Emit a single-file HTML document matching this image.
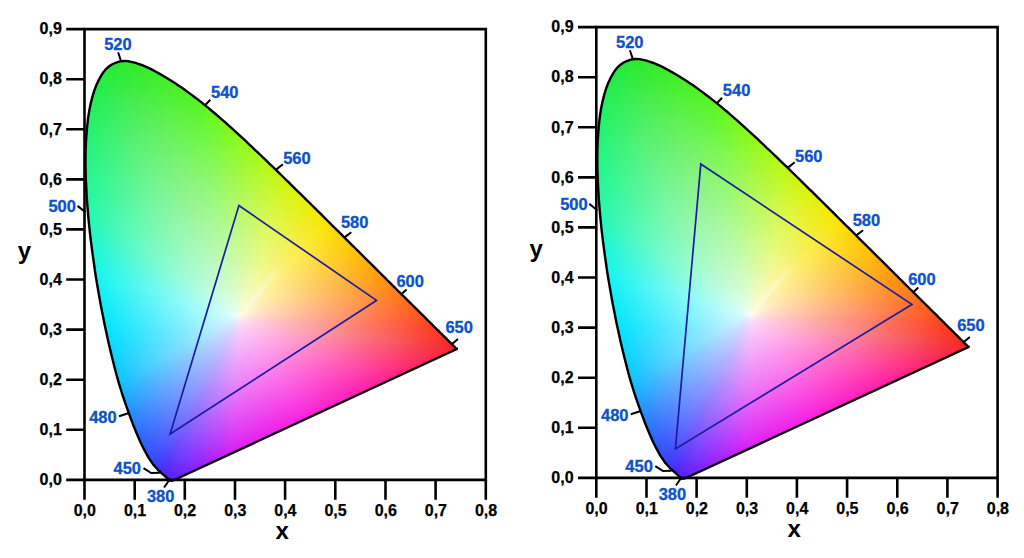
<!DOCTYPE html>
<html><head><meta charset="utf-8"><style>
html,body{margin:0;padding:0;background:#fff;width:1024px;height:558px;overflow:hidden}
.f{position:absolute;left:83px;top:58px;width:377px;height:425px;clip-path:polygon(89.0px 423.0px,88.8px 422.9px,88.5px 422.9px,88.1px 422.8px,87.7px 422.7px,87.4px 422.6px,87.1px 422.6px,86.9px 422.5px,86.8px 422.4px,86.7px 422.3px,86.6px 422.2px,86.5px 422.1px,86.4px 422.0px,86.3px 421.9px,86.1px 421.8px,85.9px 421.6px,85.8px 421.5px,85.6px 421.3px,85.4px 421.1px,85.2px 421.0px,85.0px 420.8px,84.8px 420.6px,84.6px 420.4px,84.4px 420.2px,84.1px 420.0px,83.9px 419.8px,83.6px 419.5px,83.3px 419.3px,83.1px 419.0px,82.8px 418.8px,82.4px 418.5px,82.1px 418.2px,81.7px 417.9px,81.4px 417.6px,81.0px 417.3px,80.6px 416.9px,80.2px 416.5px,79.7px 416.2px,79.3px 415.8px,78.8px 415.4px,78.3px 414.9px,77.8px 414.5px,77.3px 414.0px,76.8px 413.5px,76.2px 413.0px,75.6px 412.4px,75.0px 411.8px,74.4px 411.2px,73.8px 410.5px,73.1px 409.7px,72.4px 409.0px,71.7px 408.2px,71.0px 407.4px,70.2px 406.4px,69.4px 405.3px,68.6px 404.1px,67.7px 402.8px,66.7px 401.4px,65.7px 399.8px,64.7px 398.1px,63.6px 396.2px,62.5px 394.2px,61.4px 392.1px,60.2px 389.8px,58.9px 387.3px,57.6px 384.5px,56.3px 381.5px,54.9px 378.3px,53.4px 374.8px,51.9px 371.1px,50.3px 367.2px,48.7px 362.9px,47.0px 358.3px,45.2px 353.3px,43.3px 348.1px,41.4px 342.6px,39.4px 336.7px,37.5px 330.5px,35.5px 323.8px,33.5px 316.8px,31.6px 309.4px,29.6px 301.5px,27.6px 293.4px,25.6px 284.9px,23.7px 276.1px,21.7px 266.9px,19.8px 257.2px,17.8px 247.3px,16.0px 237.1px,14.2px 226.8px,12.5px 216.5px,11.0px 206.0px,9.5px 195.4px,8.1px 184.6px,6.8px 173.8px,5.7px 163.2px,4.8px 152.8px,4.0px 142.6px,3.4px 132.4px,2.9px 122.4px,2.6px 112.5px,2.5px 103.0px,2.6px 93.8px,2.9px 85.0px,3.5px 76.3px,4.2px 68.0px,5.1px 60.0px,6.3px 52.5px,7.7px 45.5px,9.3px 39.1px,11.1px 33.1px,13.2px 27.5px,15.5px 22.5px,17.9px 18.1px,20.4px 14.2px,23.0px 11.0px,25.9px 8.5px,28.9px 6.5px,32.0px 5.0px,35.2px 3.9px,38.3px 3.2px,41.6px 2.9px,44.9px 3.1px,48.3px 3.8px,51.7px 4.7px,55.2px 5.8px,58.6px 7.0px,62.0px 8.3px,65.5px 9.9px,69.0px 11.6px,72.4px 13.5px,75.8px 15.4px,79.2px 17.3px,82.5px 19.2px,85.8px 21.2px,89.0px 23.2px,92.2px 25.3px,95.4px 27.5px,98.6px 29.6px,101.7px 31.8px,104.9px 34.1px,108.0px 36.4px,111.1px 38.7px,114.2px 41.0px,117.2px 43.4px,120.3px 45.9px,123.4px 48.4px,126.5px 50.9px,129.5px 53.5px,132.6px 56.0px,135.6px 58.6px,138.7px 61.3px,141.7px 63.9px,144.7px 66.6px,147.8px 69.4px,150.8px 72.1px,153.8px 74.9px,156.8px 77.6px,159.9px 80.4px,162.9px 83.2px,165.9px 86.1px,168.9px 88.9px,171.9px 91.8px,175.0px 94.6px,178.0px 97.5px,181.0px 100.4px,184.1px 103.3px,187.1px 106.3px,190.1px 109.2px,193.2px 112.1px,196.2px 115.1px,199.2px 118.0px,202.2px 121.0px,205.2px 123.9px,208.2px 126.9px,211.2px 129.8px,214.2px 132.8px,217.2px 135.7px,220.2px 138.7px,223.2px 141.6px,226.2px 144.5px,229.2px 147.5px,232.1px 150.4px,235.1px 153.3px,238.0px 156.2px,240.9px 159.1px,243.8px 162.0px,246.7px 164.9px,249.6px 167.8px,252.5px 170.6px,255.3px 173.4px,258.1px 176.2px,260.9px 179.0px,263.7px 181.8px,266.5px 184.6px,269.3px 187.3px,272.0px 190.0px,274.7px 192.7px,277.4px 195.3px,280.0px 198.0px,282.6px 200.6px,285.2px 203.1px,287.8px 205.7px,290.3px 208.2px,292.8px 210.6px,295.2px 213.1px,297.7px 215.5px,300.0px 217.9px,302.4px 220.2px,304.6px 222.5px,306.9px 224.7px,309.0px 226.8px,311.1px 228.9px,313.2px 231.0px,315.2px 233.0px,317.2px 234.9px,319.1px 236.8px,321.0px 238.7px,322.9px 240.6px,324.7px 242.4px,326.5px 244.1px,328.2px 245.9px,329.9px 247.5px,331.5px 249.1px,333.1px 250.7px,334.6px 252.1px,336.0px 253.6px,337.5px 255.0px,338.8px 256.3px,340.2px 257.6px,341.4px 258.9px,342.7px 260.1px,343.8px 261.3px,345.0px 262.5px,346.1px 263.6px,347.2px 264.6px,348.2px 265.7px,349.2px 266.6px,350.1px 267.6px,351.0px 268.5px,351.9px 269.3px,352.7px 270.2px,353.5px 271.0px,354.3px 271.8px,355.1px 272.5px,355.8px 273.2px,356.5px 273.9px,357.2px 274.6px,357.8px 275.2px,358.5px 275.8px,359.1px 276.4px,359.6px 277.0px,360.2px 277.6px,360.8px 278.2px,361.3px 278.7px,361.8px 279.2px,362.3px 279.7px,362.8px 280.2px,363.3px 280.7px,363.8px 281.2px,364.2px 281.6px,364.6px 282.0px,365.1px 282.4px,365.5px 282.8px,365.9px 283.2px,366.2px 283.6px,366.6px 283.9px,366.9px 284.3px,367.3px 284.6px,367.6px 284.9px,367.9px 285.2px,368.2px 285.5px,368.4px 285.8px,368.7px 286.0px,368.9px 286.3px,369.2px 286.5px,369.4px 286.7px,369.6px 286.9px,369.8px 287.1px,370.0px 287.3px,370.2px 287.5px,370.4px 287.7px,370.6px 287.9px,370.7px 288.0px,370.9px 288.2px,371.0px 288.4px,371.2px 288.5px,371.3px 288.6px,371.4px 288.7px,371.6px 288.9px,371.7px 289.0px,371.7px 289.0px,371.8px 289.1px,371.9px 289.2px,372.0px 289.3px,372.1px 289.4px,372.2px 289.5px,372.2px 289.5px,372.3px 289.6px,372.4px 289.7px,372.5px 289.8px,372.5px 289.8px,372.6px 289.9px,372.6px 289.9px,372.7px 290.0px,372.8px 290.1px,372.8px 290.1px,372.9px 290.2px,372.9px 290.2px,373.0px 290.3px,373.1px 290.4px,373.1px 290.4px,373.2px 290.5px,373.2px 290.5px,373.3px 290.6px,373.3px 290.6px,373.4px 290.7px,373.4px 290.7px,373.5px 290.8px,373.5px 290.8px,373.6px 290.8px,373.6px 290.9px,373.6px 290.9px,373.6px 290.9px,373.7px 291.0px,373.7px 291.0px,373.7px 291.0px,373.7px 291.0px,373.8px 291.0px,373.8px 291.1px,373.8px 291.1px,373.8px 291.1px,373.8px 291.1px,373.8px 291.1px,373.8px 291.1px,373.8px 291.1px,373.8px 291.1px);background:linear-gradient(90deg,#27e931 32px,#2fea2b 50px,#30ea2a 51px) 0 2px/100% 2px no-repeat,
linear-gradient(90deg,#26e934 28px,#32eb2a 55px,#34eb29 58px) 0 4px/100% 2px no-repeat,
linear-gradient(90deg,#25ea37 24px,#33eb2a 57px,#35ec29 61px) 0 6px/100% 2px no-repeat,
linear-gradient(90deg,#24eb3a 21px,#36ec29 62px,#39ed27 68px) 0 8px/100% 2px no-repeat,
linear-gradient(90deg,#23eb3b 20px,#37ec2c 61px,#3bed27 71px) 0 10px/100% 2px no-repeat,
linear-gradient(90deg,#23eb3d 18px,#37eb2f 59px,#3cee26 74px,#3dee26 75px) 0 12px/100% 2px no-repeat,
linear-gradient(90deg,#22ec41 16px,#38eb32 57px,#3dee26 75px,#3fef25 78px) 0 14px/100% 2px no-repeat,
linear-gradient(90deg,#22ec43 15px,#39eb34 56px,#3eee26 78px,#41ef25 82px) 0 16px/100% 2px no-repeat,
linear-gradient(90deg,#22ec45 14px,#3aeb37 55px,#41ef25 82px,#43f024 85px) 0 18px/100% 2px no-repeat,
linear-gradient(90deg,#21ed47 13px,#3beb39 54px,#44f024 87px,#44f024 88px) 0 20px/100% 2px no-repeat,
linear-gradient(90deg,#21ed49 12px,#3beb3b 53px,#44f026 86px,#47f123 92px) 0 22px/100% 2px no-repeat,
linear-gradient(90deg,#20ee4b 11px,#3ceb3d 52px,#45f029 85px,#48f122 95px) 0 24px/100% 2px no-repeat,
linear-gradient(90deg,#20ee4d 10px,#3cea3f 51px,#46ef2c 84px,#49f122 96px,#4af222 98px) 0 26px/100% 2px no-repeat,
linear-gradient(90deg,#20ee4f 9px,#3dea41 50px,#48ef2f 83px,#4cf221 101px) 0 28px/100% 2px no-repeat,
linear-gradient(90deg,#20ee50 9px,#3aeb47 42px,#48ee38 75px,#4cf221 102px,#4ef320 104px) 0 30px/100% 2px no-repeat,
linear-gradient(90deg,#1fef52 8px,#3feb46 49px,#4aef34 82px,#4df321 104px,#4ff320 106px) 0 32px/100% 2px no-repeat,
linear-gradient(90deg,#1fef54 7px,#40eb48 48px,#4bef37 81px,#50f420 108px) 0 34px/100% 2px no-repeat,
linear-gradient(90deg,#1fef55 7px,#41ec4a 48px,#4def3a 81px,#50f320 108px,#53f41f 112px) 0 36px/100% 2px no-repeat,
linear-gradient(90deg,#1ef057 6px,#41ec4c 47px,#4eef3d 80px,#53f41f 113px,#54f51e 115px) 0 38px/100% 2px no-repeat,
linear-gradient(90deg,#1ef059 5px,#42ec4f 46px,#4fef40 79px,#53f420 112px,#56f51e 117px) 0 40px/100% 2px no-repeat,
linear-gradient(90deg,#1ef05a 5px,#43ed50 46px,#51ef42 79px,#55f423 112px,#5af51d 120px) 0 42px/100% 2px no-repeat,
linear-gradient(90deg,#1ef05d 4px,#43ed52 45px,#53f03e 86px,#58f51e 119px,#5ef61d 123px) 0 44px/100% 2px no-repeat,
linear-gradient(90deg,#1ef15e 4px,#44ed54 45px,#55f041 86px,#59f520 119px,#61f61c 125px) 0 46px/100% 2px no-repeat,
linear-gradient(90deg,#1ef160 3px,#2cf05c 18px,#49ed54 51px,#56f044 84px,#59f524 117px,#63f61c 127px) 0 48px/100% 2px no-repeat,
linear-gradient(90deg,#1ef161 3px,#45ee58 44px,#57f046 85px,#5bf526 118px,#68f61c 130px) 0 50px/100% 2px no-repeat,
linear-gradient(90deg,#1ef163 3px,#46ee59 44px,#59f048 85px,#5cf528 118px,#67f61c 130px,#6af61b 132px) 0 52px/100% 2px no-repeat,
linear-gradient(90deg,#1ef164 3px,#47ee5b 44px,#5af04a 85px,#5ef52b 118px,#6bf61b 133px,#6df71b 134px) 0 54px/100% 2px no-repeat,
linear-gradient(90deg,#1ef266 2px,#34f062 24px,#50ed59 57px,#5cf148 90px,#63f627 123px,#6ef71b 135px,#70f71a 136px) 0 56px/100% 2px no-repeat,
linear-gradient(90deg,#1ef267 2px,#4fee5c 53px,#5df04e 86px,#61f62e 119px,#71f71a 137px,#74f71a 139px) 0 58px/100% 2px no-repeat,
linear-gradient(90deg,#1ef268 2px,#50ee5e 53px,#5ef050 86px,#62f631 119px,#76f71a 141px) 0 60px/100% 2px no-repeat,
linear-gradient(90deg,#1ef26a 2px,#51ee60 53px,#5ff052 86px,#64f633 119px,#76f71a 141px,#7af719 144px) 0 62px/100% 2px no-repeat,
linear-gradient(90deg,#1ef36c 1px,#30f169 19px,#51ef62 52px,#60f055 85px,#65f636 118px,#7cf819 145px,#7df819 146px) 0 64px/100% 2px no-repeat,
linear-gradient(90deg,#1ef36d 1px,#52ef63 52px,#62f057 85px,#67f639 118px,#7cf819 145px,#80f818 148px) 0 66px/100% 2px no-repeat,
linear-gradient(90deg,#1ef36e 1px,#52ef65 52px,#63f059 85px,#68f63b 118px,#7df81b 145px,#83f818 150px) 0 68px/100% 2px no-repeat,
linear-gradient(90deg,#1ef36f 1px,#53ef66 52px,#64f05b 85px,#6ef634 126px,#80f81a 148px,#85f818 152px) 0 70px/100% 2px no-repeat,
linear-gradient(90deg,#1ef371 0px,#2df26f 15px,#57ef67 56px,#66f15a 89px,#6bf63b 122px,#82f81b 149px,#88f817 154px) 0 72px/100% 2px no-repeat,
linear-gradient(90deg,#1ef473 0px,#29f371 12px,#55f069 53px,#69f258 94px,#71f738 127px,#88f817 154px,#8cf917 157px) 0 74px/100% 2px no-repeat,
linear-gradient(90deg,#1ef474 0px,#2df372 15px,#59f06a 56px,#69f15e 89px,#6ef640 122px,#8af918 155px,#8ff916 159px) 0 76px/100% 2px no-repeat,
linear-gradient(90deg,#1ef475 0px,#55f06e 51px,#6bf15e 92px,#71f73f 125px,#8ef917 158px,#91f916 161px) 0 78px/100% 2px no-repeat,
linear-gradient(90deg,#1ef476 0px,#56f170 51px,#6af065 84px,#70f64a 117px,#79f739 132px,#8ff917 159px,#94f916 163px) 0 80px/100% 2px no-repeat,
linear-gradient(90deg,#1ef478 0px,#56f172 51px,#6bf067 84px,#72f64c 117px,#77f73f 129px,#93f916 162px,#97f915 165px) 0 82px/100% 2px no-repeat,
linear-gradient(90deg,#1ef479 0px,#57f174 51px,#6cf068 84px,#73f64f 117px,#78f741 129px,#94f918 162px,#9afa15 167px) 0 84px/100% 2px no-repeat,
linear-gradient(90deg,#1ef57a 0px,#57f276 51px,#6df06a 84px,#75f651 117px,#7cf740 132px,#98f917 165px,#9cfa14 169px) 0 86px/100% 2px no-repeat,
linear-gradient(90deg,#1ef57b 0px,#58f277 51px,#6ef06c 84px,#76f653 117px,#7af746 129px,#9efa14 170px,#a0fa14 172px) 0 88px/100% 2px no-repeat,
linear-gradient(90deg,#1ef57d 0px,#58f279 51px,#6ff06e 84px,#77f655 117px,#7ef845 132px,#a2fa14 173px,#a3fa13 174px) 0 90px/100% 2px no-repeat,
linear-gradient(90deg,#1ef57e 0px,#59f27b 51px,#70f070 84px,#79f658 117px,#7ff847 132px,#a2fa14 173px,#a6f913 176px) 0 92px/100% 2px no-repeat,
linear-gradient(90deg,#1ef580 0px,#59f37c 51px,#71f071 84px,#7af65a 117px,#81f84a 132px,#a3fa16 173px,#a9f912 178px) 0 94px/100% 2px no-repeat,
linear-gradient(90deg,#1ef581 0px,#5af37e 51px,#72f073 84px,#7bf65c 117px,#82f84c 132px,#a5fa18 173px,#aef912 181px) 0 96px/100% 2px no-repeat,
linear-gradient(90deg,#1ff583 0px,#66f27c 63px,#7af46a 104px,#82f84f 131px,#aff911 182px,#b1f811 183px) 0 98px/100% 2px no-repeat,
linear-gradient(90deg,#1ff584 0px,#66f27e 63px,#7bf46c 104px,#83f852 131px,#b0f911 182px,#b4f810 185px) 0 100px/100% 2px no-repeat,
linear-gradient(90deg,#1ff686 0px,#67f280 63px,#7af273 96px,#82f856 129px,#aff915 180px,#b7f810 187px) 0 102px/100% 2px no-repeat,
linear-gradient(90deg,#1ff688 0px,#67f382 63px,#7cf275 96px,#83f858 129px,#b0f918 180px,#b8f810 188px,#baf80f 189px) 0 104px/100% 2px no-repeat,
linear-gradient(90deg,#1ff689 0px,#68f383 63px,#7df277 96px,#84f85b 129px,#b1f91a 180px,#bbf80f 190px,#bdf70f 191px) 0 106px/100% 2px no-repeat,
linear-gradient(90deg,#20f68b 0px,#68f385 63px,#7ef279 96px,#85f85d 129px,#b3f91d 180px,#bef70e 192px,#c0f70e 193px) 0 108px/100% 2px no-repeat,
linear-gradient(90deg,#20f68c 0px,#69f387 63px,#7ff27b 96px,#86f85f 129px,#b4f91f 180px,#bff70e 192px,#c3f70e 195px) 0 110px/100% 2px no-repeat,
linear-gradient(90deg,#20f68e 0px,#69f488 63px,#80f27c 96px,#88f861 129px,#b5f921 180px,#c3f70e 195px,#c6f70d 197px) 0 112px/100% 2px no-repeat,
linear-gradient(90deg,#20f68f 0px,#6af48a 63px,#81f27e 96px,#89f863 129px,#b6f924 180px,#c7f60d 198px,#c9f60d 199px) 0 114px/100% 2px no-repeat,
linear-gradient(90deg,#20f691 0px,#6af48c 63px,#82f280 96px,#8af866 129px,#b8f926 180px,#c8f60d 198px,#ccf60c 201px) 0 116px/100% 2px no-repeat,
linear-gradient(90deg,#20f693 0px,#6af48d 63px,#83f282 96px,#8cf868 129px,#b9f929 180px,#cdf60c 202px,#cff60c 203px) 0 118px/100% 2px no-repeat,
linear-gradient(90deg,#21f794 0px,#6bf58f 63px,#81f286 90px,#8bf676 117px,#91f964 135px,#c0f822 186px,#d0f60b 204px,#d3f50b 206px) 0 120px/100% 2px no-repeat,
linear-gradient(90deg,#21f796 0px,#6bf591 63px,#82f288 90px,#8cf678 117px,#92f966 135px,#c1f825 186px,#d1f60b 204px,#d6f50a 208px) 0 122px/100% 2px no-repeat,
linear-gradient(90deg,#21f797 0px,#41f795 27px,#7af48e 78px,#8cf57f 111px,#91f96a 133px,#c0f92a 184px,#d4f50b 206px,#d8f50a 210px) 0 124px/100% 2px no-repeat,
linear-gradient(90deg,#21f799 0px,#36f797 18px,#72f593 69px,#8af386 102px,#94f96a 135px,#c4f82a 186px,#d7f50a 208px,#daf409 212px) 0 126px/100% 2px no-repeat,
linear-gradient(90deg,#21f79a 0px,#2ef798 12px,#79f493 75px,#8df485 108px,#95f96c 135px,#c5f82c 186px,#d8f50c 208px,#dcf309 214px) 0 128px/100% 2px no-repeat,
linear-gradient(90deg,#21f79c 0px,#2ef79a 12px,#79f594 75px,#8ef487 108px,#96f96f 135px,#c6f82e 186px,#dcf309 213px,#def208 216px) 0 130px/100% 2px no-repeat,
linear-gradient(90deg,#22f79d 0px,#2bf79b 10px,#77f597 73px,#8ef48a 106px,#95f973 133px,#c5f933 184px,#dcf30d 211px,#e0f108 218px) 0 132px/100% 2px no-repeat,
linear-gradient(90deg,#22f79f 0px,#29f79d 8px,#75f699 71px,#8bf38e 98px,#95f77d 125px,#9bf971 137px,#caf830 188px,#dff209 215px,#e2f007 220px) 0 134px/100% 2px no-repeat,
linear-gradient(90deg,#22f7a0 0px,#29f79e 8px,#76f69a 71px,#8cf390 98px,#96f77f 125px,#9ff970 140px,#cef82e 191px,#e1f108 218px,#e4f006 222px) 0 136px/100% 2px no-repeat,
linear-gradient(90deg,#22f7a2 0px,#2bf7a0 10px,#78f69b 73px,#8ef391 100px,#98f87f 127px,#9ff973 139px,#cff832 190px,#e1f10b 217px,#e5ef06 224px) 0 138px/100% 2px no-repeat,
linear-gradient(90deg,#22f8a3 0px,#2bf7a1 10px,#79f69d 73px,#8ff393 100px,#99f882 127px,#a0f975 139px,#d0f834 190px,#e2f10e 217px,#e7ee05 225px,#e7ee05 226px) 0 140px/100% 2px no-repeat,
linear-gradient(90deg,#22f8a5 0px,#29f8a3 8px,#77f69f 71px,#92f493 104px,#9bf880 131px,#caf942 182px,#dff31b 209px,#e9ed05 227px,#e9ed05 228px) 0 142px/100% 2px no-repeat,
linear-gradient(90deg,#23f8a6 0px,#29f8a4 8px,#77f7a1 71px,#93f495 104px,#9df882 131px,#cbf944 182px,#e0f31e 209px,#e9ed05 227px,#ebec04 230px) 0 144px/100% 2px no-repeat,
linear-gradient(90deg,#23f8a8 0px,#28f8a6 8px,#78f7a2 71px,#94f496 104px,#9ef884 131px,#bbfb5e 164px,#dff526 205px,#eaed06 227px,#edeb04 232px) 0 146px/100% 2px no-repeat,
linear-gradient(90deg,#23f8a9 1px,#2df8a7 11px,#7bf7a3 74px,#96f497 107px,#a0f983 134px,#d0f944 185px,#e4f21e 212px,#edec04 230px,#efeb03 234px) 0 148px/100% 2px no-repeat,
linear-gradient(90deg,#23f8ab 1px,#2df8a9 11px,#7bf7a5 74px,#97f499 107px,#a1f985 134px,#d2f946 185px,#e5f221 212px,#f0ea03 234px,#f1ea03 236px) 0 150px/100% 2px no-repeat,
linear-gradient(90deg,#22f8ad 1px,#34f8aa 16px,#81f7a5 79px,#98f49b 106px,#a2f988 133px,#d2f94a 184px,#e5f224 211px,#f0ea04 233px,#f3e902 238px) 0 152px/100% 2px no-repeat,
linear-gradient(90deg,#22f8af 1px,#2ff8ac 13px,#7ef7a8 76px,#9af49b 109px,#a4f987 136px,#d6f848 187px,#ebef1a 220px,#f4e902 238px,#f5e801 240px) 0 154px/100% 2px no-repeat,
linear-gradient(90deg,#21f8b1 1px,#29f8ae 9px,#7af8aa 72px,#99f59f 105px,#a4f98d 132px,#b0fa7d 147px,#e1f63b 198px,#f5e801 239px,#f7e701 242px) 0 156px/100% 2px no-repeat,
linear-gradient(90deg,#21f8b3 2px,#31f8af 14px,#80f8ab 77px,#9cf49e 110px,#a6fa8a 137px,#d9f84b 188px,#f6e803 239px,#f8e700 243px) 0 158px/100% 2px no-repeat,
linear-gradient(90deg,#21f8b5 2px,#2af8b2 10px,#6df9ae 61px,#99f6a4 102px,#a6f894 129px,#abfa88 141px,#dff848 192px,#f9e600 243px,#fae600 245px) 0 160px/100% 2px no-repeat,
linear-gradient(90deg,#20f7b8 2px,#29f8b4 10px,#6df9b0 61px,#99f6a5 102px,#a7f896 129px,#acfa8a 141px,#e0f84a 192px,#fae602 243px,#fae300 247px) 0 162px/100% 2px no-repeat,
linear-gradient(90deg,#20f7ba 2px,#28f8b6 10px,#62f9b2 51px,#9af6a7 102px,#a8f898 129px,#b1fa89 144px,#e3f748 195px,#fae301 246px,#fbe000 250px) 0 164px/100% 2px no-repeat,
linear-gradient(90deg,#1ff7bc 2px,#27f8b9 10px,#58f9b4 43px,#93f7ad 94px,#a6f7a1 121px,#b0fa8d 143px,#e3f74c 194px,#fbe304 245px,#fbde00 252px) 0 166px/100% 2px no-repeat,
linear-gradient(90deg,#1ff7be 3px,#2bf8ba 13px,#5bf9b6 46px,#96f7ae 97px,#aaf89c 130px,#b0fa90 142px,#dbf95d 183px,#f4ec24 224px,#fbde00 251px,#fbdc00 254px) 0 168px/100% 2px no-repeat,
linear-gradient(90deg,#1ef7c0 3px,#27f8bd 11px,#59f9b7 44px,#94f8b0 95px,#a8f7a4 122px,#b3fb90 144px,#def95c 185px,#fae816 236px,#fbdb00 254px,#fcda00 256px) 0 170px/100% 2px no-repeat,
linear-gradient(90deg,#1ef7c3 3px,#26f7bf 11px,#59f9b9 44px,#94f8b2 95px,#a9f7a6 122px,#b4fb92 144px,#dff95f 185px,#fbe718 236px,#fcd901 254px,#fcd700 258px) 0 172px/100% 2px no-repeat,
linear-gradient(90deg,#1df7c5 3px,#25f7c1 11px,#59f9ba 44px,#95f8b4 95px,#aaf7a7 122px,#b5fb94 144px,#e1f961 185px,#fbe61b 236px,#fcd600 258px,#fcd500 260px) 0 174px/100% 2px no-repeat,
linear-gradient(90deg,#1df7c6 4px,#2af7c3 14px,#5dfabc 47px,#98f8b4 98px,#adf7a7 125px,#b5fb97 143px,#e1f964 184px,#fbe61f 235px,#fcd502 257px,#fcd300 262px) 0 176px/100% 2px no-repeat,
linear-gradient(90deg,#1cf7c9 4px,#26f7c6 12px,#64fabd 53px,#9ff8b4 104px,#b2fa9f 137px,#dcfa6e 178px,#eff24a 205px,#fbe725 232px,#fcd302 259px,#fdd100 263px) 0 178px/100% 2px no-repeat,
linear-gradient(90deg,#1cf7cb 4px,#25f7c8 12px,#64fabf 53px,#9ff8b6 104px,#b4faa2 137px,#c9fc89 159px,#e9f75e 192px,#fbe626 233px,#fdd103 260px,#fdce00 266px) 0 180px/100% 2px no-repeat,
linear-gradient(90deg,#1cf7cd 5px,#31f8c8 20px,#6efac0 61px,#a7f7b3 112px,#b5faa2 139px,#e1fa70 180px,#f9ec38 221px,#fdcf03 262px,#fdcb00 268px) 0 182px/100% 2px no-repeat,
linear-gradient(90deg,#1bf6cf 5px,#28f7cc 15px,#68fac2 56px,#a3f8b8 107px,#b7faa3 140px,#e3fa71 181px,#fbec39 222px,#fdcd05 263px,#fec900 270px) 0 184px/100% 2px no-repeat,
linear-gradient(90deg,#1bf6d1 5px,#24f7ce 13px,#66fac3 54px,#a1f9bb 105px,#b5f9ac 132px,#bffb9d 147px,#eaf869 188px,#fbec3d 221px,#fdcd09 262px,#fec700 272px) 0 186px/100% 2px no-repeat,
linear-gradient(90deg,#1af6d3 5px,#23f7d1 13px,#72fac4 64px,#abf8b8 115px,#bafba5 142px,#e8f972 183px,#fce93c 224px,#feca07 265px,#fec500 273px) 0 188px/100% 2px no-repeat,
linear-gradient(90deg,#1af6d5 6px,#2ff7d1 21px,#70fac6 62px,#aaf8bb 113px,#bafaa9 140px,#e7fa77 181px,#fce941 222px,#fec300 273px,#fec200 275px) 0 190px/100% 2px no-repeat,
linear-gradient(90deg,#19f6d7 6px,#26f7d4 16px,#76fac7 67px,#a5f9bf 108px,#b9f9b0 135px,#c1fba4 147px,#e7fa7a 180px,#fce944 221px,#fec303 272px,#ffbf00 278px) 0 192px/100% 2px no-repeat,
linear-gradient(90deg,#19f6da 6px,#22f6d7 14px,#73fbc9 65px,#aef9bd 116px,#befbaa 143px,#ebf877 184px,#fceb4b 217px,#fec50b 268px,#ffbe00 278px,#ffbd00 280px) 0 194px/100% 2px no-repeat,
linear-gradient(90deg,#18f6dc 6px,#21f6d9 14px,#73facb 65px,#aef9bf 116px,#bffbac 143px,#e6fa84 176px,#fcea4e 217px,#ffbb01 280px,#ffb901 283px) 0 196px/100% 2px no-repeat,
linear-gradient(90deg,#18f6de 6px,#20f6dc 14px,#82fbcb 77px,#b0f9c0 118px,#c1fbac 145px,#e9fa83 178px,#fcee58 211px,#ffbe09 274px,#ffb602 284px) 0 198px/100% 2px no-repeat,
linear-gradient(90deg,#17f6e0 6px,#1ff6de 14px,#82fbcd 77px,#b1f9c2 118px,#c2fbae 145px,#ebfa85 178px,#fced5a 211px,#ffbd0c 274px,#ffb302 286px) 0 200px/100% 2px no-repeat,
linear-gradient(90deg,#17f6e2 7px,#20f6e0 15px,#83fbce 78px,#b2f9c4 119px,#c4fcaf 146px,#ecfa86 179px,#fceb5b 212px,#ffba0e 275px,#ffb103 287px,#ffb003 288px) 0 202px/100% 2px no-repeat,
linear-gradient(90deg,#16f5e5 7px,#1ff6e2 15px,#83fbd0 78px,#b2fac6 119px,#c5fcb1 146px,#edf988 179px,#fcea5d 212px,#ffb911 275px,#ffae03 287px,#ffad03 290px) 0 204px/100% 2px no-repeat,
linear-gradient(90deg,#16f5e7 7px,#1ef6e4 15px,#83fbd2 78px,#b3fac8 119px,#c6fcb4 146px,#eef98a 179px,#fcee67 206px,#ffaf09 284px,#ffaa04 292px) 0 206px/100% 2px no-repeat,
linear-gradient(90deg,#15f5e9 7px,#1bf6e7 14px,#80fbd5 77px,#b2faca 118px,#c7fbb7 145px,#eff98d 178px,#fcee6a 205px,#ffaf0e 283px,#ffa705 293px,#ffa605 294px) 0 208px/100% 2px no-repeat,
linear-gradient(90deg,#15f5eb 8px,#1ef6e9 16px,#82fbd7 79px,#bef9c5 130px,#cafcb6 148px,#eefa93 175px,#fcef70 202px,#ffb014 280px,#ffa305 295px,#ffa305 296px) 0 210px/100% 2px no-repeat,
linear-gradient(90deg,#15f5ed 8px,#1df6eb 16px,#97fcd4 94px,#bcfac9 127px,#cdfcb7 149px,#f0fa94 176px,#fded71 203px,#ffad16 281px,#ffa006 296px,#ffa006 298px) 0 212px/100% 2px no-repeat,
linear-gradient(90deg,#14f5ef 9px,#1df6ed 17px,#98fcd6 95px,#befacb 128px,#cffcb8 150px,#f1f995 177px,#fdef78 199px,#ff9e07 296px,#ff9c07 300px) 0 214px/100% 2px no-repeat,
linear-gradient(90deg,#14f5f0 9px,#1bf5f0 16px,#96fcd8 94px,#bdface 127px,#cefcbb 149px,#f2f998 176px,#fdef7c 198px,#ff9d0c 295px,#ff9808 303px) 0 216px/100% 2px no-repeat,
linear-gradient(90deg,#13f4f1 9px,#1bf5f1 17px,#97fcdb 95px,#befbcf 128px,#d1fcbc 150px,#f0fb9f 172px,#fdf183 194px,#ff9f14 291px,#ff9608 303px,#ff9508 304px) 0 218px/100% 2px no-repeat,
linear-gradient(90deg,#12f3f1 10px,#1cf4f1 18px,#98fcdd 96px,#c8f9cb 137px,#d5fdbc 152px,#f3fa9f 174px,#fdef83 196px,#ff9c14 293px,#ff9209 305px,#ff9209 306px) 0 220px/100% 2px no-repeat,
linear-gradient(90deg,#12f3f2 10px,#19f4f2 17px,#5df8ec 58px,#a9fcdb 109px,#cdfaca 142px,#d6fdbe 152px,#f4faa1 174px,#fded85 196px,#ff9a17 293px,#ff8f0a 305px,#ff8e0a 308px) 0 222px/100% 2px no-repeat,
linear-gradient(90deg,#11f2f2 11px,#22f4f2 23px,#65f9ed 64px,#b0fcdb 115px,#cefacc 142px,#d7fdc1 152px,#f2fba8 170px,#fdf08c 192px,#ff9c1f 289px,#ff8b0a 307px,#ff8b0b 310px) 0 224px/100% 2px no-repeat,
linear-gradient(90deg,#10f1f3 11px,#1af3f3 19px,#5ef8f0 60px,#abfcde 111px,#cbfad1 138px,#dafdc2 153px,#f4faa9 171px,#fdf191 189px,#ff880b 310px,#ff870c 313px) 0 226px/100% 2px no-repeat,
linear-gradient(90deg,#10f1f3 11px,#17f2f3 18px,#6bf9f0 69px,#b6fcde 120px,#d3fccc 147px,#f3fbad 169px,#fdf196 187px,#ff8810 308px,#ff840d 315px) 0 228px/100% 2px no-repeat,
linear-gradient(90deg,#0ff0f4 11px,#18f1f4 19px,#6cf9f2 70px,#b7fcdf 121px,#d5fccd 148px,#f5faae 170px,#feef97 188px,#ff8512 309px,#ff810e 317px) 0 230px/100% 2px no-repeat,
linear-gradient(90deg,#0ff0f4 12px,#18f1f4 20px,#6cf9f4 71px,#b9fde1 122px,#d3fad3 144px,#dffdc8 154px,#f6fab2 169px,#feef9b 187px,#ff8517 308px,#ff7e0f 318px,#ff7e0f 319px) 0 232px/100% 2px no-repeat,
linear-gradient(90deg,#0eeff5 12px,#15f0f5 19px,#7cfaf4 82px,#c6fddf 133px,#dafdce 151px,#f5fcb8 166px,#fef0a0 184px,#ff861e 305px,#ff7a11 320px,#ff7a11 321px) 0 234px/100% 2px no-repeat,
linear-gradient(90deg,#0deef5 12px,#15eff5 20px,#7df9f6 83px,#c8fde1 134px,#ddfdd0 152px,#f7fbb9 167px,#fef1a5 182px,#ff8624 303px,#ff7712 321px,#ff7712 323px) 0 236px/100% 2px no-repeat,
linear-gradient(90deg,#0deef6 12px,#12eef6 19px,#91faf4 97px,#cdfde1 138px,#e0fdd1 153px,#f6fcbe 165px,#fef1aa 180px,#ff862a 301px,#ff7413 323px,#ff7413 324px) 0 238px/100% 2px no-repeat,
linear-gradient(90deg,#0cedf6 13px,#13eef6 20px,#91faf7 98px,#cffde3 139px,#e3fdd2 154px,#f9fbbe 166px,#ffeca7 184px,#ff8129 305px,#ff7115 323px,#ff7015 326px) 0 240px/100% 2px no-repeat,
linear-gradient(90deg,#0becf7 13px,#13edf7 21px,#92faf8 99px,#d0fde5 140px,#e7fed3 155px,#f9fbc2 165px,#ffe7a6 187px,#ff7c29 308px,#ff6d16 326px,#ff6c16 328px) 0 242px/100% 2px no-repeat,
linear-gradient(90deg,#0becf7 13px,#10ecf7 20px,#8ff9f9 98px,#b8fcf2 125px,#dbfce2 147px,#e9fed6 155px,#fbfac4 165px,#ffd396 206px,#ff6917 327px,#ff6817 331px) 0 244px/100% 2px no-repeat,
linear-gradient(90deg,#0aebf8 14px,#11ecf8 21px,#8ff8f9 99px,#b9fcf5 126px,#defce5 148px,#edfed7 156px,#fcfbc8 164px,#ffd19a 205px,#ff7e37 302px,#ff6519 329px,#ff6519 332px) 0 246px/100% 2px no-repeat,
linear-gradient(90deg,#09eaf8 14px,#0febf8 21px,#8ef8fa 99px,#b8fcf8 126px,#defde9 148px,#effedb 156px,#fdfacb 164px,#ffc694 215px,#ff732f 312px,#ff6219 334px) 0 248px/100% 2px no-repeat,
linear-gradient(90deg,#09eaf8 15px,#10eaf9 22px,#abfafb 119px,#d1fdf3 141px,#e8fde5 153px,#fcfcd3 161px,#ffdcb1 188px,#ff8850 285px,#ff6522 326px,#ff5f1a 336px) 0 250px/100% 2px no-repeat,
linear-gradient(90deg,#08e9f9 15px,#0feaf9 22px,#8df6fb 100px,#cffdf8 141px,#eafdea 153px,#fdfcd8 160px,#ffdab6 187px,#ff8854 284px,#ff5c1a 335px,#ff5c1a 339px) 0 252px/100% 2px no-repeat,
linear-gradient(90deg,#07e8f9 15px,#0de9fa 22px,#8bf5fc 100px,#cefdfc 141px,#ebfef0 153px,#fefbde 159px,#ffdcc0 181px,#ff7743 302px,#ff5b1d 335px,#ff591a 340px) 0 254px/100% 2px no-repeat,
linear-gradient(90deg,#07e8fa 16px,#0de8fa 23px,#8cf5fc 101px,#cefbfd 142px,#e7fef9 152px,#fefde8 157px,#ffe6d2 169px,#ffb89c 220px,#ff551b 341px,#ff551b 343px) 0 256px/100% 2px no-repeat,
linear-gradient(90deg,#06e7fa 16px,#0ce8fb 23px,#8af4fd 101px,#ccfafe 142px,#e4fcff 152px,#f4fbfd 155px,#fff8f8 156px,#ffe9e3 162px,#ffcebf 189px,#ff6d3f 310px,#ff521b 343px,#ff521b 344px) 0 258px/100% 2px no-repeat,
linear-gradient(90deg,#05e6fb 17px,#0de7fb 24px,#8af3fe 102px,#ccf8ff 143px,#e8f4ff 153px,#fdebfd 156px,#fed9d9 171px,#ffb8a9 212px,#ff5728 333px,#ff4e1c 345px,#ff4e1c 346px) 0 260px/100% 2px no-repeat,
linear-gradient(90deg,#05e6fb 17px,#0be6fc 24px,#89f2fe 102px,#ccf6ff 143px,#e1efff 151px,#efe7ff 154px,#fce4fd 156px,#fdcbcd 183px,#ff5429 334px,#ff4b1c 346px,#ff4b1c 349px) 0 262px/100% 2px no-repeat,
linear-gradient(90deg,#04e5fc 18px,#0be6fc 25px,#a7f3ff 122px,#cff3ff 144px,#e4e5ff 152px,#fbdffd 156px,#fec8d3 183px,#feaba2 224px,#ff481f 345px,#ff471d 351px) 0 264px/100% 2px no-repeat,
linear-gradient(90deg,#03e4fc 18px,#0ae5fd 25px,#a7f2ff 122px,#c6f1ff 140px,#dde3ff 150px,#fadafd 156px,#ffc8e0 178px,#fcacaa 219px,#ff5e44 316px,#ff421e 349px,#ff421d 353px) 0 266px/100% 2px no-repeat,
linear-gradient(90deg,#03e4fd 18px,#09e4fd 25px,#a7f0ff 122px,#c7ecff 140px,#ddddff 150px,#f9d6fd 156px,#ffc7e9 174px,#fba6a8 225px,#ff5840 322px,#ff3f20 349px,#ff3d1e 354px) 0 268px/100% 2px no-repeat,
linear-gradient(90deg,#02e3fe 19px,#09e4fe 26px,#a8eeff 123px,#c3e9ff 138px,#dfd7fe 150px,#f9d2fc 156px,#ffc4eb 174px,#fb908e 252px,#fe5039 330px,#fe3c20 352px,#ff3b1e 357px) 0 270px/100% 2px no-repeat,
linear-gradient(90deg,#01e2fe 19px,#07e3fe 26px,#a8ecff 123px,#c4e4ff 138px,#d8d7ff 148px,#f8cffc 156px,#fec1ec 174px,#fa9092 252px,#fe3f26 349px,#fe391f 359px) 0 272px/100% 2px no-repeat,
linear-gradient(90deg,#01e2ff 20px,#08e2ff 27px,#aaebff 124px,#d3d6ff 146px,#f3cdfd 154px,#fec4f6 166px,#fc939e 244px,#fc4632 341px,#fd371f 359px,#fd371f 361px) 0 274px/100% 2px no-repeat,
linear-gradient(90deg,#00e1ff 20px,#07e1ff 27px,#aae8ff 124px,#d3d1ff 146px,#f3cafd 154px,#febff4 169px,#ffa5c8 210px,#f97d82 273px,#fc3c29 351px,#fc351f 363px) 0 276px/100% 2px no-repeat,
linear-gradient(90deg,#01e0ff 21px,#09e0ff 28px,#8de8ff 106px,#abe4ff 124px,#cad3ff 142px,#dccbff 148px,#f7c5fc 156px,#feb6eb 178px,#ffa1ca 211px,#f97074 289px,#fb3a2b 352px,#fb3220 364px,#fb3220 365px) 0 278px/100% 2px no-repeat,
linear-gradient(90deg,#01dfff 21px,#08dfff 28px,#8de6ff 106px,#abe0ff 124px,#c9cfff 142px,#e5c6ff 150px,#f6c2fc 156px,#feb3ec 178px,#ff9ecd 211px,#f85f62 308px,#fa3326 359px,#fa3020 367px) 0 280px/100% 2px no-repeat,
linear-gradient(90deg,#02ddff 22px,#0cdeff 30px,#90e4ff 108px,#bed2ff 135px,#ccc9ff 143px,#f5bffc 155px,#feb1ee 177px,#ff97c7 218px,#f8595e 315px,#f92c21 366px,#f92d21 369px) 0 282px/100% 2px no-repeat,
linear-gradient(90deg,#02dcff 22px,#0adcff 29px,#8ee3ff 107px,#c5caff 140px,#dbc2ff 147px,#f5bcfc 155px,#feaeef 177px,#ff94ca 218px,#f95661 315px,#f63939 348px,#f72822 370px,#f72922 371px) 0 284px/100% 2px no-repeat,
linear-gradient(90deg,#03dbff 22px,#0adbff 29px,#8ee0ff 107px,#c5c6ff 140px,#f4b9fc 155px,#fea8eb 182px,#ff8ec7 223px,#f63e43 344px,#f52423 371px,#f52423 373px) 0 286px/100% 2px no-repeat,
linear-gradient(90deg,#04daff 23px,#0bdaff 30px,#77e0ff 93px,#9cd7ff 115px,#bfc6ff 137px,#d6bdff 145px,#f4b7fc 155px,#fea5ec 182px,#ff8bc9 223px,#f73c46 344px,#f52325 371px,#f52324 375px) 0 288px/100% 2px no-repeat,
linear-gradient(90deg,#04d9ff 23px,#0bd9ff 30px,#77deff 93px,#aecbff 126px,#c1c1ff 138px,#efb5fc 153px,#f9adf7 165px,#fe93d9 206px,#ff7eba 239px,#f62d37 360px,#f52327 375px,#f52326 376px) 0 290px/100% 2px no-repeat,
linear-gradient(90deg,#05d8ff 24px,#0cd8ff 31px,#79dcff 94px,#bbc2ff 135px,#d1b9ff 143px,#f3b1fb 155px,#fd9fed 182px,#ff7fc3 233px,#f82e3f 354px,#f6232d 372px,#f6232d 374px) 0 292px/100% 2px no-repeat,
linear-gradient(90deg,#05d7ff 24px,#0cd6ff 31px,#79d9ff 94px,#bbbeff 135px,#ceb7ff 142px,#f1affc 154px,#fd9def 181px,#ff7cc6 232px,#f92c43 353px,#f72334 368px,#f72334 369px) 0 294px/100% 2px no-repeat,
linear-gradient(90deg,#06d5ff 25px,#0ed5ff 32px,#66d9ff 83px,#a9c2ff 124px,#bdb8fe 136px,#f1acfb 154px,#fd9aef 181px,#ff72bb 244px,#f8233a 365px) 0 296px/100% 2px no-repeat,
linear-gradient(90deg,#06d4ff 25px,#0dd4ff 32px,#66d7ff 83px,#a9bfff 124px,#b8b7ff 134px,#ecaafc 152px,#f4a6f9 159px,#fd94ec 186px,#ff6bb8 249px,#fb2b4f 346px,#fa2341 361px) 0 298px/100% 2px no-repeat,
linear-gradient(90deg,#07d3ff 26px,#0fd3ff 33px,#68d4ff 84px,#9ec1ff 117px,#b4b7ff 132px,#c7b0ff 139px,#f0a6fb 154px,#fd91eb 187px,#ff68b9 250px,#fc2750 347px,#fb2349 355px,#fb2348 356px) 0 300px/100% 2px no-repeat,
linear-gradient(90deg,#08d2ff 26px,#0fd1ff 33px,#57d4ff 74px,#9bbfff 115px,#b7b1fe 133px,#f1a3fb 155px,#fd8deb 188px,#ff64ba 251px,#fc2351 348px,#fc234f 352px) 0 302px/100% 2px no-repeat,
linear-gradient(90deg,#08d0ff 27px,#10d0ff 34px,#58d1ff 75px,#9cbbff 116px,#b2b0ff 131px,#dca6fe 146px,#f19ffa 156px,#fd8aeb 189px,#ff60bb 252px,#ff2d67 330px,#fd2356 348px) 0 304px/100% 2px no-repeat,
linear-gradient(90deg,#09cfff 27px,#12cfff 35px,#4cd1ff 68px,#91bcff 109px,#b3acfe 131px,#ed9efb 153px,#fd89ee 186px,#ff55b0 264px,#fe235d 342px,#fe235d 343px) 0 306px/100% 2px no-repeat,
linear-gradient(90deg,#0aceff 28px,#11ceff 35px,#4cceff 68px,#91b9ff 109px,#abafff 127px,#bda7fd 134px,#eb9cfb 152px,#f495f7 164px,#fd83ea 191px,#ff4fad 269px,#ff2469 332px,#ff2363 339px) 0 308px/100% 2px no-repeat,
linear-gradient(90deg,#0acdff 28px,#13ccff 36px,#4ecbff 69px,#92b6ff 110px,#acaaff 128px,#c7a3ff 138px,#ec99fb 153px,#fd7ee8 194px,#ff49ac 272px,#ff226a 335px) 0 310px/100% 2px no-repeat,
linear-gradient(90deg,#0bcbff 29px,#13cbff 36px,#43caff 63px,#89b6ff 104px,#a8a9ff 126px,#b9a2fd 132px,#e698fc 150px,#f094f9 157px,#fc7eec 190px,#ff49b1 268px,#ff267b 319px,#ff2271 329px,#ff2270 330px) 0 312px/100% 2px no-repeat,
linear-gradient(90deg,#0bcaff 29px,#14caff 37px,#45c7ff 64px,#89b2ff 105px,#a3a9ff 123px,#b7a0fd 131px,#e396fc 149px,#f091f9 157px,#fc7bec 190px,#ff46b2 268px,#ff237c 319px,#ff2177 326px) 0 314px/100% 2px no-repeat,
linear-gradient(90deg,#0cc9ff 30px,#14c8ff 37px,#4fc1ff 70px,#86b0ff 103px,#a6a3fe 125px,#b69efd 131px,#ec91fa 153px,#fc76ea 194px,#ff40b0 272px,#ff2485 313px,#ff217e 321px,#ff217d 322px) 0 316px/100% 2px no-repeat,
linear-gradient(90deg,#0dc7ff 31px,#17c7ff 39px,#61b9ff 80px,#9fa5ff 121px,#b39bfd 129px,#de92fc 147px,#ee8cf9 155px,#fc71e8 196px,#ff3baf 274px,#ff2085 315px,#ff2084 317px) 0 318px/100% 2px no-repeat,
linear-gradient(90deg,#0dc6ff 31px,#15c5ff 38px,#5fb6ff 79px,#9da2ff 120px,#b299fd 128px,#dc8ffd 146px,#ee89f9 156px,#fc6ee8 197px,#ff2a9d 294px,#ff208b 312px,#ff208a 313px) 0 320px/100% 2px no-repeat,
linear-gradient(90deg,#0ec4ff 32px,#19c3ff 40px,#73adff 91px,#99a1ff 118px,#ac97fd 126px,#e08bfc 148px,#ed86f9 156px,#fc6be9 197px,#ff269f 294px,#ff1f90 309px) 0 322px/100% 2px no-repeat,
linear-gradient(90deg,#0fc3ff 32px,#18c0ff 40px,#72aaff 91px,#999eff 118px,#ad94fd 126px,#e089fc 148px,#ed83f9 156px,#fc68e9 197px,#ff23a0 294px,#ff1f97 304px) 0 324px/100% 2px no-repeat,
linear-gradient(90deg,#10c0ff 33px,#1abdff 41px,#65aaff 82px,#949dff 115px,#a492fd 123px,#d988fc 145px,#ec81f9 155px,#fc66ea 196px,#ff20a3 293px,#ff1e9d 300px) 0 326px/100% 2px no-repeat,
linear-gradient(90deg,#11beff 33px,#1abaff 41px,#64a7ff 82px,#939aff 115px,#ab90fd 125px,#dd84fc 147px,#ec7ef9 155px,#fb63ea 196px,#ff1ea3 293px,#ff1ea2 296px) 0 328px/100% 2px no-repeat,
linear-gradient(90deg,#12bbff 34px,#1cb7ff 42px,#65a4ff 83px,#9495ff 116px,#a98dfd 124px,#db81fc 146px,#ec7bf8 156px,#fb5fea 197px,#fe27b0 275px,#ff1ea6 290px,#ff1ea6 291px) 0 330px/100% 2px no-repeat,
linear-gradient(90deg,#13b7ff 35px,#1eb3ff 43px,#65a1ff 84px,#8c97ff 111px,#a18bfc 121px,#d480fd 143px,#eb79f8 155px,#fc56e4 206px,#fe1eab 284px,#fe1ea9 287px) 0 332px/100% 2px no-repeat,
linear-gradient(90deg,#14b5ff 35px,#1db0ff 43px,#59a1ff 76px,#8895ff 109px,#9c89fc 119px,#c782ff 137px,#eb76f8 155px,#fb53e4 206px,#fe25b6 269px,#fe1ead 281px,#fe1ead 283px) 0 334px/100% 2px no-repeat,
linear-gradient(90deg,#15b1ff 36px,#1fadff 44px,#5a9eff 77px,#8992ff 110px,#a186fc 120px,#c97efe 138px,#e874f9 153px,#fb51e6 204px,#fd24b7 267px,#fe1eb1 277px,#fe1eb0 278px) 0 336px/100% 2px no-repeat,
linear-gradient(90deg,#16aeff 37px,#25a8ff 47px,#5d9aff 80px,#8491ff 107px,#9884fc 117px,#bb7fff 132px,#e971f8 154px,#fb4ee6 205px,#fd20b7 268px,#fd1eb4 274px) 0 338px/100% 2px no-repeat,
linear-gradient(90deg,#17abff 37px,#21a6ff 45px,#5a98ff 78px,#8a8aff 111px,#a081fc 119px,#c679fe 137px,#e96df8 155px,#fb4ae5 206px,#fd1eb7 269px,#fd1eb7 270px) 0 340px/100% 2px no-repeat,
linear-gradient(90deg,#18a7ff 38px,#23a2ff 46px,#5297ff 73px,#818cff 106px,#977ffc 116px,#b97aff 131px,#e76bf8 153px,#fb48e7 204px,#fd23c1 255px,#fd1ebb 265px) 0 342px/100% 2px no-repeat,
linear-gradient(90deg,#19a4ff 39px,#289dff 49px,#5e91ff 82px,#8685ff 109px,#9c7dfc 117px,#bb77ff 132px,#e868f8 154px,#fb44e6 205px,#fc1fc1 256px,#fd1ebe 261px) 0 344px/100% 2px no-repeat,
linear-gradient(90deg,#1aa1ff 39px,#249bff 47px,#5a8fff 80px,#8284ff 107px,#967bfc 115px,#b775ff 130px,#e566f8 152px,#fb3ae0 215px,#fc1ec2 256px,#fc1ec1 257px) 0 346px/100% 2px no-repeat,
linear-gradient(90deg,#1c9dff 40px,#2697ff 48px,#678aff 89px,#8280ff 107px,#9778fc 115px,#b074ff 127px,#e762f8 154px,#fb35de 217px,#fc1ec6 250px,#fc1ec5 252px) 0 348px/100% 2px no-repeat,
linear-gradient(90deg,#1d99ff 41px,#2c92ff 51px,#7982ff 102px,#8e76fc 112px,#a973ff 124px,#e261f8 151px,#ee52f1 173px,#fb34e1 214px,#fc1ec9 247px,#fc1ec8 248px) 0 350px/100% 2px no-repeat,
linear-gradient(90deg,#1e95ff 42px,#3a8cff 60px,#7780ff 101px,#8c74fc 111px,#a771ff 123px,#e05ff9 150px,#e958f5 160px,#fb33e4 211px,#fc1ecc 244px) 0 352px/100% 2px no-repeat,
linear-gradient(90deg,#1f92ff 42px,#358aff 57px,#727fff 98px,#8a71fc 110px,#9572fd 115px,#c565fd 137px,#e658f7 155px,#fb2bdf 218px,#fb1ed1 236px,#fb1ed0 239px) 0 354px/100% 2px no-repeat,
linear-gradient(90deg,#218eff 43px,#3687ff 58px,#727bff 99px,#886ffc 109px,#9470fd 114px,#c362fd 136px,#e556f7 154px,#fa29e0 217px,#fb1ed3 235px) 0 356px/100% 2px no-repeat,
linear-gradient(90deg,#228bff 43px,#2d86ff 53px,#6a7bff 94px,#806ffd 106px,#916dfc 112px,#bf61fe 134px,#e254f8 152px,#fa27e2 215px,#fb1ed7 230px,#fb1ed6 231px) 0 358px/100% 2px no-repeat,
linear-gradient(90deg,#2387ff 44px,#2e83ff 54px,#6b78ff 95px,#846afc 107px,#906bfc 112px,#bf5efd 134px,#e251f7 152px,#fa24e2 215px,#fa1edb 225px,#fb1eda 226px) 0 360px/100% 2px no-repeat,
linear-gradient(90deg,#2384ff 45px,#2f80ff 55px,#6c74ff 96px,#8867fc 108px,#9c66ff 118px,#e04ff8 151px,#f921e2 214px,#fa1edd 222px) 0 362px/100% 2px no-repeat,
linear-gradient(90deg,#2481ff 46px,#2f7dff 56px,#6d70ff 97px,#8665fc 107px,#9a64ff 117px,#de4df8 150px,#e744f4 162px,#f81fe2 213px,#fa1ee1 218px) 0 364px/100% 2px no-repeat,
linear-gradient(90deg,#247eff 47px,#3379ff 59px,#6471ff 92px,#7d63fb 104px,#8a63fc 109px,#c254fc 136px,#e347f6 154px,#f521e5 205px,#f81ee2 213px) 0 366px/100% 2px no-repeat,
linear-gradient(90deg,#257cff 47px,#2f77ff 57px,#616fff 90px,#7861fc 102px,#8861fc 108px,#b655fe 130px,#e145f7 152px,#f420e5 203px,#f61ee4 209px) 0 368px/100% 2px no-repeat,
linear-gradient(90deg,#2579ff 48px,#3074ff 58px,#626bff 91px,#7c5efb 103px,#875ffc 108px,#c04efc 135px,#e241f6 153px,#f41ee5 204px,#f41ee5 205px) 0 370px/100% 2px no-repeat,
linear-gradient(90deg,#2576ff 49px,#3170ff 59px,#6267ff 92px,#805bfb 104px,#935aff 114px,#d743f8 147px,#e23df5 155px,#f11fe7 196px,#f21ee6 200px) 0 372px/100% 2px no-repeat,
linear-gradient(90deg,#2673ff 50px,#346cff 62px,#5d66ff 89px,#7759fb 101px,#835afc 106px,#bb49fd 133px,#de3df7 151px,#ef1fe9 192px,#f01ee7 196px) 0 374px/100% 2px no-repeat,
linear-gradient(90deg,#2670ff 51px,#356aff 63px,#5e62ff 90px,#7c56fb 102px,#8f55ff 112px,#e138f6 153px,#ec1fea 186px,#ee1ee9 192px) 0 376px/100% 2px no-repeat,
linear-gradient(90deg,#276dff 51px,#3167ff 61px,#5a61ff 88px,#7654fb 100px,#7f55fc 104px,#ac48ff 126px,#e035f6 153px,#ec1eea 186px,#ec1eea 187px) 0 378px/100% 2px no-repeat,
linear-gradient(90deg,#276aff 52px,#2f65ff 60px,#585eff 87px,#7451fb 99px,#7d52fc 103px,#aa46ff 125px,#de32f6 152px,#e91fed 179px,#ea1eeb 183px) 0 380px/100% 2px no-repeat,
linear-gradient(90deg,#2866ff 53px,#3362ff 63px,#545dff 85px,#6e4ffb 97px,#7b50fc 102px,#a844ff 124px,#dc30f6 151px,#e81eed 178px,#e91eed 179px) 0 382px/100% 2px no-repeat,
linear-gradient(90deg,#2863ff 54px,#365fff 66px,#525aff 84px,#6c4cfb 96px,#794dfb 101px,#9d44ff 119px,#dd2cf5 152px,#e61eee 174px) 0 384px/100% 2px no-repeat,
linear-gradient(90deg,#2961ff 55px,#375cff 67px,#5355ff 85px,#704afb 97px,#8449ff 107px,#c732f9 140px,#df27f4 155px,#e51eef 170px) 0 386px/100% 2px no-repeat,
linear-gradient(90deg,#295eff 56px,#3859ff 68px,#4f54ff 83px,#6b47fb 95px,#7649fc 100px,#a33cff 122px,#d828f6 149px,#e020f3 159px,#e31ef1 166px) 0 388px/100% 2px no-repeat,
linear-gradient(90deg,#2a5cff 57px,#3857ff 69px,#504fff 84px,#6845fb 94px,#7446fc 99px,#a139ff 121px,#d625f6 148px,#df1ef3 158px,#e01ef2 161px) 0 390px/100% 2px no-repeat,
linear-gradient(90deg,#2b59ff 58px,#3954ff 70px,#524bfe 85px,#6642fb 93px,#7243fb 98px,#963aff 116px,#d721f6 149px,#df1ef3 157px) 0 392px/100% 2px no-repeat,
linear-gradient(90deg,#2b56ff 59px,#3a51ff 71px,#5446fd 86px,#6b3ffb 94px,#7d3fff 104px,#c027fa 137px,#dc1ef5 152px,#dd1ef4 153px) 0 394px/100% 2px no-repeat,
linear-gradient(90deg,#2c53ff 60px,#3a4eff 72px,#5641fc 87px,#6d3dfb 95px,#7b3dff 103px,#be25fa 136px,#d51ef6 148px) 0 396px/100% 2px no-repeat,
linear-gradient(90deg,#2d50ff 61px,#3b4bff 73px,#593bfb 88px,#6b3bfb 94px,#783aff 102px,#bb22fa 135px,#cb1ef7 143px,#cd1ef7 144px) 0 398px/100% 2px no-repeat,
linear-gradient(90deg,#2e4dff 63px,#4243ff 78px,#6038fb 90px,#6a39fb 94px,#8134ff 106px,#c31ef9 139px,#c51ef8 140px) 0 400px/100% 2px no-repeat,
linear-gradient(90deg,#2f4bff 64px,#3e42ff 76px,#5a35fa 88px,#6836fb 93px,#7a33ff 103px,#b11ffb 130px,#bb1efa 135px) 0 402px/100% 2px no-repeat,
linear-gradient(90deg,#3049ff 65px,#403dff 77px,#5833fa 87px,#6633fb 92px,#7831ff 102px,#af1efb 129px,#b31efb 131px) 0 404px/100% 2px no-repeat,
linear-gradient(90deg,#3245ff 67px,#4438fd 79px,#5930fa 87px,#6431fb 92px,#822aff 107px,#a71efd 125px,#ab1efc 127px) 0 406px/100% 2px no-repeat,
linear-gradient(90deg,#3342ff 68px,#4135fd 78px,#572dfa 86px,#622ffb 91px,#792aff 103px,#9f1efe 121px,#a11efd 122px) 0 408px/100% 2px no-repeat,
linear-gradient(90deg,#353dff 70px,#4131fd 78px,#582afa 86px,#612dfb 91px,#7f24ff 106px,#991eff 118px) 0 410px/100% 2px no-repeat,
linear-gradient(90deg,#3737ff 72px,#4c28fa 82px,#5d28fb 88px,#6b29ff 96px,#911eff 114px) 0 412px/100% 2px no-repeat,
linear-gradient(90deg,#3b32fe 74px,#4c25fa 82px,#5b26fa 87px,#6826ff 95px,#811eff 107px,#861eff 109px) 0 414px/100% 2px no-repeat,
linear-gradient(90deg,#402bfc 76px,#4d23fa 82px,#5923fa 86px,#6624ff 94px,#7b1eff 104px,#7e1eff 105px) 0 416px/100% 2px no-repeat,
linear-gradient(90deg,#4723fa 79px,#5821fb 86px,#6620ff 94px,#761eff 101px) 0 418px/100% 2px no-repeat,
linear-gradient(90deg,#4e20fa 81px,#571ffb 86px,#6b1eff 96px) 0 420px/100% 2px no-repeat,
linear-gradient(90deg,#551efa 83px,#5b1eff 89px,#631eff 92px) 0 422px/100% 2px no-repeat}
.f2{transform:translate(511.8px,-2px)}
svg{position:absolute;left:0;top:0}
text{font-family:"Liberation Sans",sans-serif}
</style></head><body>
<div class="f"></div><div class="f f2"></div>
<svg width="1024" height="558" viewBox="0 0 1024 558">
<g id="p">
<defs><linearGradient id="sg" gradientUnits="userSpaceOnUse" x1="238.9" y1="317.6" x2="283.0" y2="263.2"><stop offset="0" stop-color="#fff" stop-opacity=".85"/><stop offset="1" stop-color="#fff" stop-opacity="0"/></linearGradient><filter id="bl" x="-50%" y="-50%" width="200%" height="200%"><feGaussianBlur stdDeviation="1.6"/></filter></defs>
<path d="M238.9,317.6 L279.5,260.6 L286.2,266.0 Z" fill="url(#sg)" filter="url(#bl)"/>
<path d="M84.5,29.1 H485.8 V479.9 H84.5 Z" fill="none" stroke="#000" stroke-width="2.6"/>
<path d="M84.5,479.9 V499.7 M134.7,479.9 V499.7 M184.8,479.9 V499.7 M235,479.9 V499.7 M285.1,479.9 V499.7 M335.3,479.9 V499.7 M385.5,479.9 V499.7 M435.6,479.9 V499.7 M485.8,479.9 V499.7 M66.2,479.9 H84.5 M66.2,429.8 H84.5 M66.2,379.7 H84.5 M66.2,329.6 H84.5 M66.2,279.5 H84.5 M66.2,229.4 H84.5 M66.2,179.4 H84.5 M66.2,129.3 H84.5 M66.2,79.2 H84.5 M66.2,29.1 H84.5" stroke="#000" stroke-width="2.6" fill="none"/>
<path d="M172,481 L171.8,480.9 L171.5,480.9 L171.1,480.8 L170.7,480.7 L170.4,480.6 L170.1,480.6 L169.9,480.5 L169.8,480.4 L169.7,480.3 L169.6,480.2 L169.5,480.1 L169.4,480 L169.3,479.9 L169.1,479.8 L168.9,479.6 L168.8,479.5 L168.6,479.3 L168.4,479.1 L168.2,479 L168,478.8 L167.8,478.6 L167.6,478.4 L167.4,478.2 L167.1,478 L166.9,477.8 L166.6,477.5 L166.3,477.3 L166.1,477 L165.8,476.8 L165.4,476.5 L165.1,476.2 L164.7,475.9 L164.4,475.6 L164,475.3 L163.6,474.9 L163.2,474.5 L162.7,474.2 L162.3,473.8 L161.8,473.4 L161.3,472.9 L160.8,472.5 L160.3,472 L159.8,471.5 L159.2,471 L158.6,470.4 L158,469.8 L157.4,469.2 L156.8,468.5 L156.1,467.7 L155.4,467 L154.7,466.2 L154,465.4 L153.2,464.4 L152.4,463.3 L151.6,462.1 L150.7,460.8 L149.7,459.4 L148.7,457.8 L147.7,456.1 L146.6,454.2 L145.5,452.2 L144.4,450.1 L143.2,447.8 L141.9,445.3 L140.6,442.5 L139.3,439.5 L137.9,436.3 L136.4,432.8 L134.9,429.1 L133.3,425.2 L131.7,420.9 L130,416.3 L128.2,411.3 L126.3,406.1 L124.4,400.6 L122.4,394.7 L120.5,388.5 L118.5,381.8 L116.5,374.8 L114.6,367.4 L112.6,359.5 L110.6,351.4 L108.6,342.9 L106.7,334.1 L104.7,324.9 L102.8,315.2 L100.8,305.3 L99,295.1 L97.2,284.8 L95.5,274.5 L94,264 L92.5,253.4 L91.1,242.6 L89.8,231.8 L88.7,221.2 L87.8,210.8 L87,200.6 L86.4,190.4 L85.9,180.4 L85.6,170.5 L85.5,161 L85.6,151.8 L85.9,143 L86.5,134.3 L87.2,126 L88.1,118 L89.3,110.5 L90.7,103.5 L92.3,97.1 L94.1,91.1 L96.2,85.5 L98.5,80.5 L100.9,76.1 L103.4,72.2 L106,69 L108.9,66.5 L111.9,64.5 L115,63 L118.2,61.9 L121.3,61.2 L124.6,60.9 L127.9,61.1 L131.3,61.8 L134.7,62.7 L138.2,63.8 L141.6,65 L145,66.3 L148.5,67.9 L152,69.6 L155.4,71.5 L158.8,73.4 L162.2,75.3 L165.5,77.2 L168.8,79.2 L172,81.2 L175.2,83.3 L178.4,85.5 L181.6,87.6 L184.7,89.8 L187.9,92.1 L191,94.4 L194.1,96.7 L197.2,99 L200.2,101.4 L203.3,103.9 L206.4,106.4 L209.5,108.9 L212.5,111.5 L215.6,114 L218.6,116.6 L221.7,119.3 L224.7,121.9 L227.7,124.6 L230.8,127.4 L233.8,130.1 L236.8,132.9 L239.8,135.6 L242.9,138.4 L245.9,141.2 L248.9,144.1 L251.9,146.9 L254.9,149.8 L258,152.6 L261,155.5 L264,158.4 L267.1,161.3 L270.1,164.3 L273.1,167.2 L276.2,170.1 L279.2,173.1 L282.2,176 L285.2,179 L288.2,181.9 L291.2,184.9 L294.2,187.8 L297.2,190.8 L300.2,193.7 L303.2,196.7 L306.2,199.6 L309.2,202.5 L312.2,205.5 L315.1,208.4 L318.1,211.3 L321,214.2 L323.9,217.1 L326.8,220 L329.7,222.9 L332.6,225.8 L335.5,228.6 L338.3,231.4 L341.1,234.2 L343.9,237 L346.7,239.8 L349.5,242.6 L352.3,245.3 L355,248 L357.7,250.7 L360.4,253.3 L363,256 L365.6,258.6 L368.2,261.1 L370.8,263.7 L373.3,266.2 L375.8,268.6 L378.2,271.1 L380.7,273.5 L383,275.9 L385.4,278.2 L387.6,280.5 L389.9,282.7 L392,284.8 L394.1,286.9 L396.2,289 L398.2,291 L400.2,292.9 L402.1,294.8 L404,296.7 L405.9,298.6 L407.7,300.4 L409.5,302.1 L411.2,303.9 L412.9,305.5 L414.5,307.1 L416.1,308.7 L417.6,310.1 L419,311.6 L420.5,313 L421.8,314.3 L423.2,315.6 L424.4,316.9 L425.7,318.1 L426.8,319.3 L428,320.5 L429.1,321.6 L430.2,322.6 L431.2,323.7 L432.2,324.6 L433.1,325.6 L434,326.5 L434.9,327.3 L435.7,328.2 L436.5,329 L437.3,329.8 L438.1,330.5 L438.8,331.2 L439.5,331.9 L440.2,332.6 L440.8,333.2 L441.5,333.8 L442.1,334.4 L442.6,335 L443.2,335.6 L443.8,336.2 L444.3,336.7 L444.8,337.2 L445.3,337.7 L445.8,338.2 L446.3,338.7 L446.8,339.2 L447.2,339.6 L447.6,340 L448.1,340.4 L448.5,340.8 L448.9,341.2 L449.2,341.6 L449.6,341.9 L449.9,342.3 L450.3,342.6 L450.6,342.9 L450.9,343.2 L451.2,343.5 L451.4,343.8 L451.7,344 L451.9,344.3 L452.2,344.5 L452.4,344.7 L452.6,344.9 L452.8,345.1 L453,345.3 L453.2,345.5 L453.4,345.7 L453.6,345.9 L453.7,346 L453.9,346.2 L454,346.4 L454.2,346.5 L454.3,346.6 L454.4,346.7 L454.6,346.9 L454.7,347 L454.7,347 L454.8,347.1 L454.9,347.2 L455,347.3 L455.1,347.4 L455.2,347.5 L455.2,347.5 L455.3,347.6 L455.4,347.7 L455.5,347.8 L455.5,347.8 L455.6,347.9 L455.6,347.9 L455.7,348 L455.8,348.1 L455.8,348.1 L455.9,348.2 L455.9,348.2 L456,348.3 L456.1,348.4 L456.1,348.4 L456.2,348.5 L456.2,348.5 L456.3,348.6 L456.3,348.6 L456.4,348.7 L456.4,348.7 L456.5,348.8 L456.5,348.8 L456.6,348.8 L456.6,348.9 L456.6,348.9 L456.6,348.9 L456.7,349 L456.7,349 L456.7,349 L456.7,349 L456.8,349 L456.8,349.1 L456.8,349.1 L456.8,349.1 L456.8,349.1 L456.8,349.1 L456.8,349.1 L456.8,349.1 L456.8,349.1 L172,481" fill="none" stroke="#000" stroke-width="2.4" stroke-linejoin="miter" stroke-miterlimit="4"/>
<g font-size="16" font-weight="bold" fill="#000" stroke="#000" stroke-width="0.25"><text x="84.8" y="516" text-anchor="middle">0,0</text><text x="135" y="516" text-anchor="middle">0,1</text><text x="185.1" y="516" text-anchor="middle">0,2</text><text x="235.3" y="516" text-anchor="middle">0,3</text><text x="285.4" y="516" text-anchor="middle">0,4</text><text x="335.6" y="516" text-anchor="middle">0,5</text><text x="385.8" y="516" text-anchor="middle">0,6</text><text x="435.9" y="516" text-anchor="middle">0,7</text><text x="486.1" y="516" text-anchor="middle">0,8</text><text x="61.8" y="485.1" text-anchor="end">0,0</text><text x="61.8" y="435" text-anchor="end">0,1</text><text x="61.8" y="384.9" text-anchor="end">0,2</text><text x="61.8" y="334.8" text-anchor="end">0,3</text><text x="61.8" y="284.7" text-anchor="end">0,4</text><text x="61.8" y="234.6" text-anchor="end">0,5</text><text x="61.8" y="184.6" text-anchor="end">0,6</text><text x="61.8" y="134.5" text-anchor="end">0,7</text><text x="61.8" y="84.4" text-anchor="end">0,8</text><text x="61.8" y="34.3" text-anchor="end">0,9</text></g>
<text x="275.6" y="539" font-size="24" font-weight="bold">x</text>
<text x="17.8" y="259" font-size="24" font-weight="bold">y</text>
<g font-size="16.5" font-weight="bold" fill="#0d52c8" stroke="#0d52c8" stroke-width="0.3"><text x="104.2" y="50.3">520</text><text x="211" y="98.3">540</text><text x="283.2" y="163.9">560</text><text x="340.9" y="228">580</text><text x="396.4" y="286.6">600</text><text x="445.4" y="333.2">650</text><text x="48.4" y="211.8">500</text><text x="89.2" y="423.3">480</text><text x="113.5" y="473.8">450</text><text x="146.9" y="502.1">380</text></g>
<path d="M118.1,52.3 L120.9,60.6 M210.3,99.7 L204.8,105.5 M282.9,164.2 L276.1,169.6 M351.3,232.2 L344.2,237.6 M406.5,289.6 L401.1,294.4 M458,338.9 L451.7,344.2 M77.5,205.9 L85.5,212.3 M119,416.2 L128.3,413.2 M143.5,468.1 L151.2,473 L159.8,472.7 M164.1,487.5 L169,480.5" stroke="#000" stroke-width="2" fill="none"/>
</g>
<use href="#p" transform="translate(511.8,-2)"/>
<path d="M238.9,205.5 L376.5,300.4 L170.1,434 Z M700.8,164 L911.9,304.4 L675.4,449 Z" fill="none" stroke="#1c1c9c" stroke-width="1.7" stroke-linejoin="miter"/>
</svg>
</body></html>
